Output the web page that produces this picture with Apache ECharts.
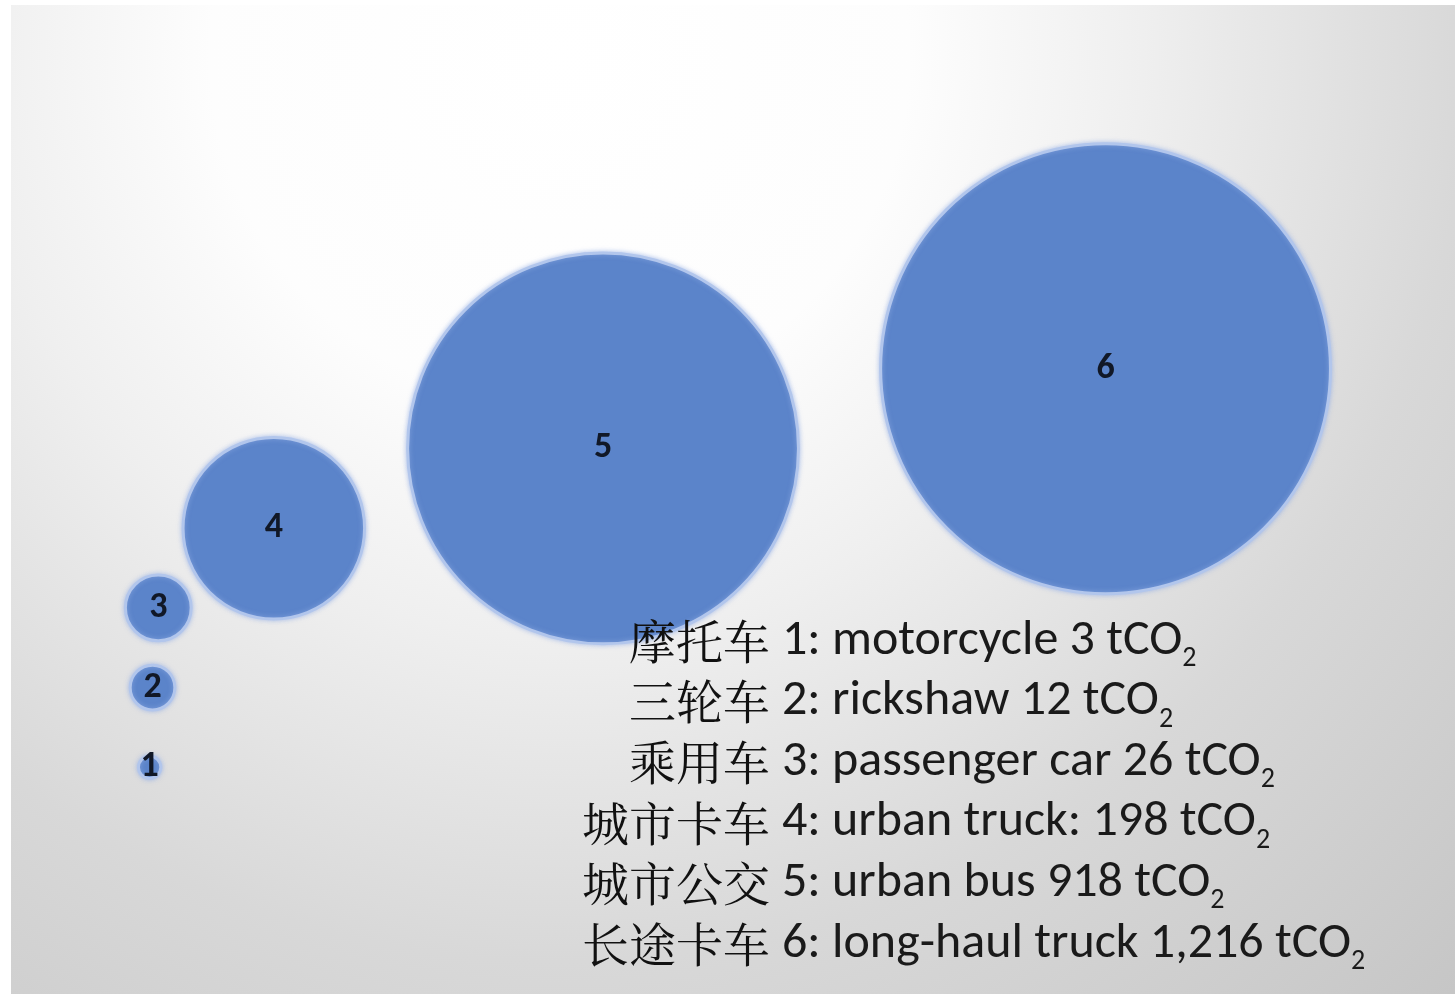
<!DOCTYPE html>
<html>
<head>
<meta charset="utf-8">
<title>Vehicle lifetime emissions</title>
<script src="https://cdn.jsdelivr.net/npm/echarts@6/dist/echarts.min.js"></script>
<style>
  html, body { margin: 0; padding: 0; background: #ffffff; }
  #chart { position: absolute; left: 11px; top: 5px; width: 1444px; height: 989px; }
</style>
</head>
<body>
<div id="chart"></div>
<script>
// bubble data
var nums = [1, 2, 3, 4, 5, 6];
var values = [3, 12, 26, 198, 918, 1216];          // tCO2
var xPos = [0.96, 0.98, 1.02, 1.82, 4.10, 7.58];   // horizontal placement (axis units)
var namesZh = ['摩托车', '三轮车', '乘用车', '城市卡车', '城市公交', '长途卡车'];
var namesEn = ['motorcycle', 'rickshaw', 'passenger car', 'urban truck:', 'urban bus', 'long-haul truck'];

var chart = echarts.init(document.getElementById('chart'));

var bg = {
    type: 'radial', x: 0.38, y: 0.05, r: 1.31,
    colorStops: [
        {offset: 0, color: '#ffffff'},
        {offset: 0.27, color: '#fdfdfd'},
        {offset: 0.45, color: '#efefef'},
        {offset: 0.7, color: '#d8d8d8'},
        {offset: 1, color: '#c6c6c6'}
    ]
};

// legend-like text block, built from the arrays
var textEls = [];
nums.forEach(function (n, i) {
    var y = 636 + i * 60.6;
    textEls.push({
        type: 'text', z: 10,
        style: {
            text: namesZh[i], x: 759, y: y,
            textAlign: 'right', textVerticalAlign: 'middle',
            fill: '#111111', fontSize: 47,
            fontFamily: '"Noto Serif CJK SC", "Noto Sans CJK SC", serif'
        }
    });
    textEls.push({
        type: 'text', z: 10,
        style: {
            text: '{t|' + n + ': ' + namesEn[i] + ' ' + values[i].toLocaleString('en-US') + ' tCO}{s|2}',
            x: 771, y: y,
            textAlign: 'left', textVerticalAlign: 'middle',
            rich: {
                t: {fontSize: 50, lineHeight: 54, fill: '#1a1a1a', fontFamily: 'Carlito, Lato, sans-serif'},
                s: {fontSize: 28, lineHeight: 28, padding: [36, 0, 0, 0], fill: '#1a1a1a', fontFamily: 'Carlito, Lato, sans-serif'}
            }
        }
    });
});

chart.setOption({
    animation: false,
    graphic: [{
        type: 'rect', z: -100, silent: true,
        shape: {x: 0, y: 0, width: 1444, height: 989},
        style: {fill: bg}
    }].concat(textEls),
    grid: {left: 0, right: 0, top: 284, bottom: 147},
    xAxis: {type: 'value', min: 0, max: 10, show: false},
    yAxis: {type: 'value', min: 0, max: 7, show: false},
    series: [{
        type: 'scatter',
        data: nums.map(function (n, i) { return [xPos[i], n, values[i]]; }),
        symbolSize: function (d) { return 12.9 * Math.sqrt(d[2]); },
        itemStyle: {
            color: '#5b84ca', opacity: 1,
            borderColor: '#b2c6ec', borderWidth: 3,
            shadowBlur: 5, shadowColor: 'rgba(150,175,230,0.7)'
        },
        label: {
            show: true, position: 'inside',
            formatter: function (p) { return p.data[1]; },
            color: '#111827', fontSize: 36, fontWeight: 'bold',
            fontFamily: 'Carlito, Lato, sans-serif'
        }
    }]
});
</script>
</body>
</html>
